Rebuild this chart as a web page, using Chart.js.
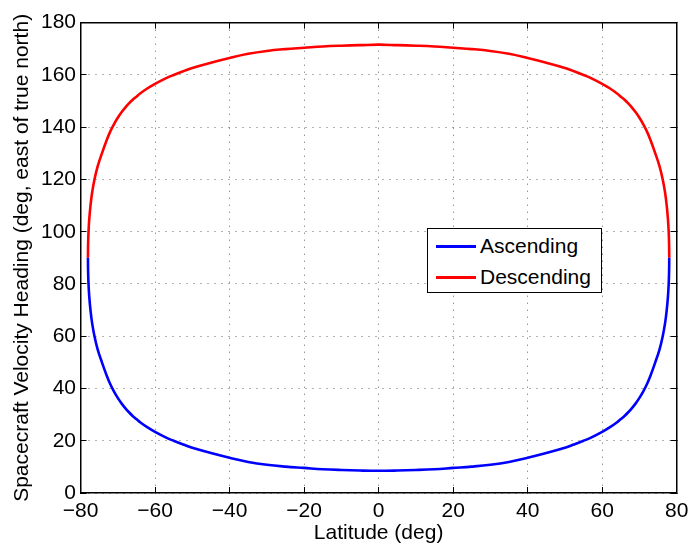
<!DOCTYPE html>
<html>
<head>
<meta charset="utf-8">
<script src="https://cdn.jsdelivr.net/npm/chart.js@4/dist/chart.umd.min.js"></script>
<style>
  html, body { margin: 0; padding: 0; background: #fff; }
  #wrap { position: relative; width: 689px; height: 548px; }
  #legend {
    position: absolute; left: 427px; top: 228px; width: 173px; height: 63px;
    border: 1px solid #000; background: #fff;
    font-family: 'Liberation Sans', Arial, Helvetica, sans-serif; font-size: 21px; color: #000;
  }
  .item { position: absolute; left: 0; height: 24px; line-height: 24px; white-space: nowrap; }
  .swatch { position: absolute; left: 8px; top: 11px; width: 40px; height: 3px; }
  .label { position: absolute; left: 52px; top: 0; }
</style>
</head>
<body>
<div id="wrap">
  <canvas id="chart" width="689" height="548"></canvas>
  <div id="legend"></div>
</div>
<script>
// Latitude samples (deg) and heading readings for each branch
const latitude = [
  -78, -77.96, -77.85, -77.64, -77.32, -76.88, -76.25, -75.4, -74.25, -72.98,
  -72, -71, -70, -69, -68, -67, -66, -65, -64, -62, -60, -57, -55, -52, -50,
  -45, -40, -35, -30, -25, -20, -15, -10, -5,
  0,
  5, 10, 15, 20, 25, 30, 35, 40, 45,
  50, 52, 55, 57, 60, 62, 64, 65, 66, 67, 68, 69, 70, 71, 72,
  72.98, 74.25, 75.4, 76.25, 76.88, 77.32, 77.64, 77.85, 77.96, 78];

const ascending = [
  90, 85, 80, 75, 70, 65, 60, 55, 50, 45,
  41.6, 38.8, 36.4, 34.3, 32.5, 30.9, 29.5, 28.3, 27.1, 25.1, 23.4, 21.2, 20.0, 18.35, 17.3,
  15.3, 13.5, 11.9, 10.8, 10.1, 9.6, 9.1, 8.8, 8.6,
  8.5,
  8.6, 8.8, 9.1, 9.6, 10.1, 10.8, 11.9, 13.5, 15.3,
  17.3, 18.35, 20.0, 21.2, 23.4, 25.1, 27.1, 28.3, 29.5, 30.9, 32.5, 34.3, 36.4, 38.8, 41.6,
  45, 50, 55, 60, 65, 70, 75, 80, 85, 90];

const descending = [
  90, 95, 100, 105, 110, 115, 120, 125, 130, 135,
  138.4, 141.2, 143.6, 145.7, 147.5, 149.1, 150.5, 151.7, 152.9, 154.9, 156.6, 158.8, 160.0, 161.65, 162.7,
  164.7, 166.5, 168.1, 169.2, 169.9, 170.4, 170.9, 171.2, 171.4,
  171.6,
  171.4, 171.2, 170.9, 170.4, 169.9, 169.2, 168.1, 166.5, 164.7,
  162.7, 161.65, 160.0, 158.8, 156.6, 154.9, 152.9, 151.7, 150.5, 149.1, 147.5, 145.7, 143.6, 141.2, 138.4,
  135, 130, 125, 120, 115, 110, 105, 100, 95, 90];

const seriesNames = ['Ascending', 'Descending'];
const seriesColors = ['#0000ff', '#ff0000'];

const xTicks = { min: -80, max: 80, step: 20 };
const yTicks = { min: 0, max: 180, step: 20 };

const FONT = "'Liberation Sans', Arial, Helvetica, sans-serif";
Chart.defaults.font.family = FONT;
Chart.defaults.font.size = 21;
Chart.defaults.color = '#000';

function toPoints(xs, ys) {
  return xs.map((x, i) => ({ x: x, y: ys[i] }));
}

function minusLabel(v) {
  return v < 0 ? '\u2212' + Math.abs(v) : String(v);
}

// shared grid look: grey dotted lines, black inward ticks
const gridStyle = {
  color: 'rgba(0,0,0,0.6)',
  lineWidth: 1,
  drawTicks: true,
  tickLength: -6,
  tickColor: '#000',
  tickWidth: 1
};
const borderStyle = { display: true, color: '#000', width: 1.5, dash: [1, 6] };

// pin the plot box where the reference has it
function fixSize(size) {
  return s => {
    if (s.isHorizontal()) s.height = size; else s.width = size;
    s.paddingLeft = s.paddingRight = s.paddingTop = s.paddingBottom = 0;
  };
}

const chart = new Chart(document.getElementById('chart'), {
  type: 'scatter',
  data: {
    datasets: [ascending, descending].map((vals, i) => ({
      label: seriesNames[i],
      data: toPoints(latitude, vals),
      showLine: true,
      borderColor: seriesColors[i],
      backgroundColor: seriesColors[i],
      borderWidth: 2.6,
      pointRadius: 0,
      tension: 0.4
    }))
  },
  options: {
    responsive: false,
    animation: false,
    layout: { padding: { top: 22.7, right: 12.3, left: 0, bottom: 0 } },
    plugins: { legend: { display: false }, tooltip: { enabled: false } },
    scales: {
      x: {
        type: 'linear', position: 'bottom',
        min: xTicks.min, max: xTicks.max,
        ticks: { stepSize: xTicks.step, padding: 12, maxRotation: 0, autoSkip: false, callback: minusLabel },
        grid: gridStyle,
        border: borderStyle,
        title: { display: true, text: 'Latitude (deg)', padding: { top: 0, bottom: 2.4 } },
        afterFit: fixSize(55)
      },
      y: {
        type: 'linear', position: 'left',
        min: yTicks.min, max: yTicks.max,
        ticks: { stepSize: yTicks.step, padding: 10.5, autoSkip: false, callback: minusLabel },
        grid: gridStyle,
        border: borderStyle,
        title: { display: true, text: 'Spacecraft Velocity Heading (deg, east of true north)', padding: { top: 9.4, bottom: 0 } },
        afterFit: fixSize(80.5)
      },
      x2: {
        type: 'linear', axis: 'x', position: 'top',
        min: xTicks.min, max: xTicks.max,
        ticks: { display: false, stepSize: xTicks.step },
        grid: Object.assign({}, gridStyle, { drawOnChartArea: false }),
        border: { display: true, color: '#000', width: 1.5 },
        afterFit: fixSize(0)
      },
      y2: {
        type: 'linear', axis: 'y', position: 'right',
        min: yTicks.min, max: yTicks.max,
        ticks: { display: false, stepSize: yTicks.step },
        grid: Object.assign({}, gridStyle, { drawOnChartArea: false }),
        border: { display: true, color: '#000', width: 1.5 },
        afterFit: fixSize(0)
      }
    }
  }
});

// legend box inside the plot
const legend = document.getElementById('legend');
legend.innerHTML = seriesNames.map((name, i) => `
  <div class="item" style="top:${5 + i * 31}px">
    <span class="swatch" style="background:${seriesColors[i]}"></span>
    <span class="label">${name}</span>
  </div>`).join('');
</script>
</body>
</html>
